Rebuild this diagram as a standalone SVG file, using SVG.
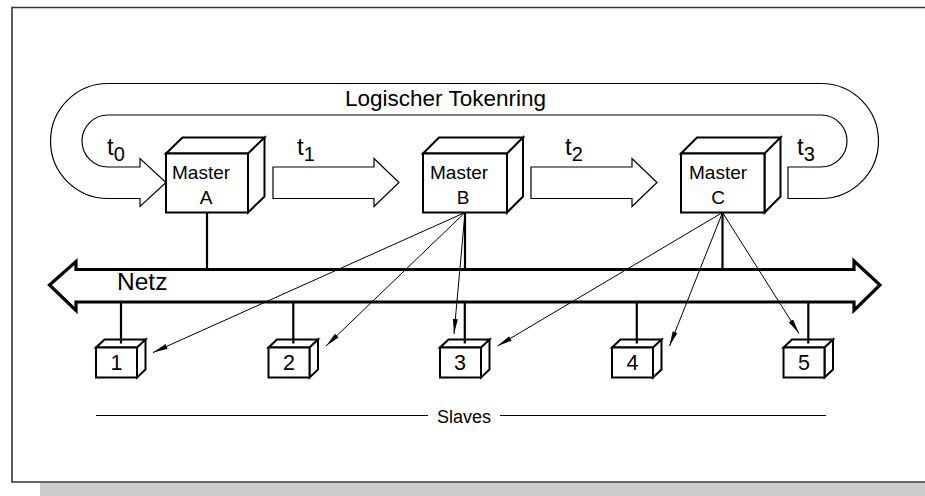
<svg xmlns="http://www.w3.org/2000/svg" width="925" height="496" viewBox="0 0 925 496">
  <style>
    text { font-family: "Liberation Sans", Arial, sans-serif; fill: #000; }
    .ring { fill: #fff; stroke: #000; stroke-width: 1.2; stroke-linejoin: miter; }
    .box { fill: #fff; stroke: #000; stroke-width: 2; stroke-linejoin: miter; }
    .net { fill: #fff; stroke: #000; stroke-width: 3.2; stroke-linejoin: miter; }
    .stem { stroke: #000; stroke-width: 2.2; fill: none; }
    .conn { stroke: #000; stroke-width: 1; fill: none; marker-end: url(#ah); }
    .master { font-size: 19px; }
    .slave { font-size: 21.5px; text-anchor: middle; }
    .tok { font-size: 24px; }
    .sub { font-size: 20px; }
  </style>
  <defs>
    <marker id="ah" markerUnits="userSpaceOnUse" markerWidth="16" markerHeight="8" refX="15" refY="3" orient="auto">
      <path d="M0,0.5 L15,3 L0,5.5 Z" fill="#000"/>
    </marker>
  </defs>

  <!-- frame and shadow -->
  <rect x="40" y="483" width="885" height="13" fill="#cccccc"/>
  <path d="M925,7.5 L12,7.5 L12,482 L925,482" fill="none" stroke="#333" stroke-width="1.6"/>

  <!-- logical token ring -->
  <g id="tokenring">
    <path class="ring" d="M788,167 L821,167 A26,26 0 0 0 821,115 L108,115 A26,26 0 0 0 108,167 L140,167 L140,158.5 L166,182.5 L140,206.5 L140,198.5 L108,198.5 A57.5,57.5 0 0 1 108,83.5 L821,83.5 A57.5,57.5 0 0 1 821,198.5 L788,198.5 Z"/>
    <text x="345" y="106" style="font-size:22.5px">Logischer Tokenring</text>
  </g>

  <g id="token-t1">
    <path class="ring" d="M273,167 L374,167 L374,158.5 L399,182.5 L374,206.5 L374,198.5 L273,198.5 Z"/>
  </g>
  <g id="token-t2">
    <path class="ring" d="M531,167 L632,167 L632,158.5 L657,182.5 L632,206.5 L632,198.5 L531,198.5 Z"/>
  </g>

  <g id="labels-t">
    <text class="tok" x="107" y="155">t<tspan class="sub" dy="5.5">0</tspan></text>
    <text class="tok" x="297" y="155">t<tspan class="sub" dy="5.5">1</tspan></text>
    <text class="tok" x="565" y="155">t<tspan class="sub" dy="5.5">2</tspan></text>
    <text class="tok" x="797" y="155">t<tspan class="sub" dy="5.5">3</tspan></text>
  </g>

  <!-- network -->
  <g id="netz">
    <path class="net" d="M49.5,285 L76,261.5 L76,269.5 L854,269.5 L854,261 L880,285 L854,310.5 L854,302 L76,302 L76,310.5 Z"/>
    <text x="117" y="290" style="font-size:24.5px">Netz</text>
  </g>

  <!-- masters -->
  <g id="master-a">
    <path class="box" d="M166,153.5 L182.5,137.5 L264.5,137.5 L248,153.5 Z M248,153.5 L264.5,137.5 L264.5,196.5 L248,212.5 Z"/>
    <rect class="box" x="166" y="153.5" width="82" height="59"/>
    <text class="master" x="172" y="179">Master</text>
    <text class="master" x="206" y="204" text-anchor="middle">A</text>
  </g>
  <g id="master-b">
    <path class="box" d="M423,153.5 L439,137.5 L523,137.5 L507,153.5 Z M507,153.5 L523,137.5 L523,196.5 L507,212.5 Z"/>
    <rect class="box" x="423" y="153.5" width="84" height="59"/>
    <text class="master" x="430" y="179">Master</text>
    <text class="master" x="463" y="204" text-anchor="middle">B</text>
  </g>
  <g id="master-c">
    <path class="box" d="M681,153.5 L697,137.5 L780.5,137.5 L764.5,153.5 Z M764.5,153.5 L780.5,137.5 L780.5,196.5 L764.5,212.5 Z"/>
    <rect class="box" x="681" y="153.5" width="83.5" height="59"/>
    <text class="master" x="689" y="179">Master</text>
    <text class="master" x="718" y="204" text-anchor="middle">C</text>
  </g>

  <!-- slaves -->
  <g id="slave-1">
    <path class="box" d="M96,347.5 L104.5,339.5 L145.5,339.5 L137,347.5 Z M137,347.5 L145.5,339.5 L145.5,369.5 L137,377.5 Z"/>
    <rect class="box" x="96" y="347.5" width="41" height="30"/>
    <text class="slave" x="116.5" y="370">1</text>
  </g>
  <g id="slave-2">
    <path class="box" d="M268.5,347.5 L277,339.5 L318,339.5 L309.5,347.5 Z M309.5,347.5 L318,339.5 L318,369.5 L309.5,377.5 Z"/>
    <rect class="box" x="268.5" y="347.5" width="41" height="30"/>
    <text class="slave" x="289" y="370">2</text>
  </g>
  <g id="slave-3">
    <path class="box" d="M440,347.5 L448.5,339.5 L489.5,339.5 L481,347.5 Z M481,347.5 L489.5,339.5 L489.5,369.5 L481,377.5 Z"/>
    <rect class="box" x="440" y="347.5" width="41" height="30"/>
    <text class="slave" x="460" y="370">3</text>
  </g>
  <g id="slave-4">
    <path class="box" d="M612,347.5 L620.5,339.5 L661.5,339.5 L653,347.5 Z M653,347.5 L661.5,339.5 L661.5,369.5 L653,377.5 Z"/>
    <rect class="box" x="612" y="347.5" width="41" height="30"/>
    <text class="slave" x="632.5" y="370">4</text>
  </g>
  <g id="slave-5">
    <path class="box" d="M783.5,347.5 L792,339.5 L833,339.5 L824.5,347.5 Z M824.5,347.5 L833,339.5 L833,369.5 L824.5,377.5 Z"/>
    <rect class="box" x="783.5" y="347.5" width="41" height="30"/>
    <text class="slave" x="804" y="370">5</text>
  </g>

  <!-- connectors -->
  <g id="connectors">
    <line class="stem" x1="207" y1="212.5" x2="207" y2="269.5"/>
    <line class="stem" x1="465" y1="212.5" x2="465" y2="269.5"/>
    <line class="stem" x1="722.5" y1="212.5" x2="722.5" y2="269.5"/>
    <line class="stem" x1="121" y1="302" x2="121" y2="343.5"/>
    <line class="stem" x1="293.3" y1="302" x2="293.3" y2="343.5"/>
    <line class="stem" x1="464.8" y1="302" x2="464.8" y2="343.5"/>
    <line class="stem" x1="636.8" y1="302" x2="636.8" y2="343.5"/>
    <line class="stem" x1="808.3" y1="302" x2="808.3" y2="343.5"/>
    <line class="conn" x1="465" y1="212.5" x2="153" y2="352.5"/>
    <line class="conn" x1="465" y1="212.5" x2="326" y2="346"/>
    <line class="conn" x1="465" y1="212.5" x2="454" y2="334"/>
    <line class="conn" x1="722.5" y1="212.5" x2="497.5" y2="346"/>
    <line class="conn" x1="722.5" y1="212.5" x2="669.5" y2="346"/>
    <line class="conn" x1="722.5" y1="212.5" x2="799" y2="333.5"/>
  </g>

  <!-- slaves caption -->
  <g id="slaves-caption">
    <line x1="96" y1="415.5" x2="428" y2="415.5" stroke="#000" stroke-width="1.2"/>
    <line x1="500" y1="415.5" x2="826" y2="415.5" stroke="#000" stroke-width="1.2"/>
    <text x="437" y="422.5" style="font-size:18px">Slaves</text>
  </g>
</svg>
